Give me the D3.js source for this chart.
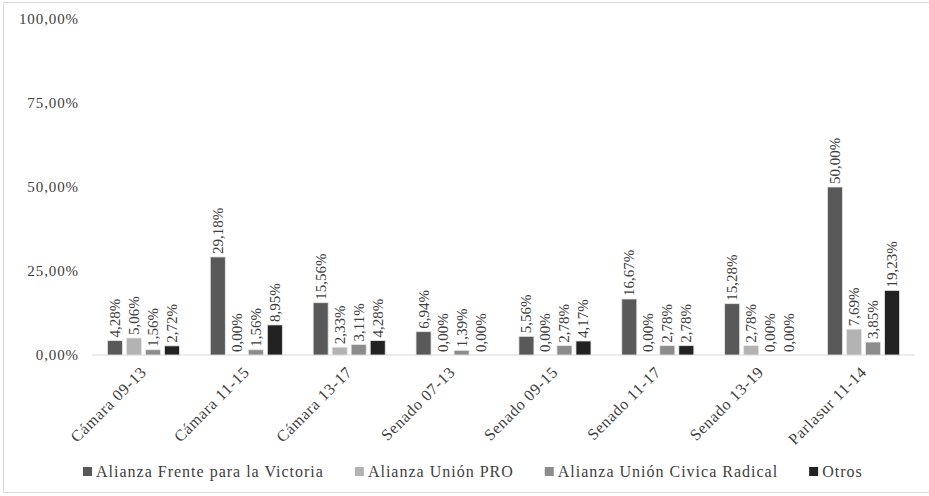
<!doctype html>
<html>
<head>
<meta charset="utf-8">
<script src="https://d3js.org/d3.v7.min.js"></script>
<style>
  body { margin: 0; background: #fff; }
  text { font-family: "Liberation Serif", "Times New Roman", serif; fill: #404040; }
</style>
</head>
<body>
<svg width="929" height="496"></svg>
<script>

var categories = ["Cámara 09-13", "Cámara 11-15", "Cámara 13-17", "Senado 07-13",
                  "Senado 09-15", "Senado 11-17", "Senado 13-19", "Parlasur 11-14"];
var seriesNames = ["Alianza Frente para la Victoria", "Alianza Unión PRO",
                   "Alianza Unión Civica Radical", "Otros"];
var fpv   = [4.28, 29.18, 15.56, 6.94, 5.56, 16.67, 15.28, 50.00];
var pro   = [5.06, 0.00, 2.33, 0.00, 0.00, 0.00, 2.78, 7.69];
var ucr   = [1.56, 1.56, 3.11, 1.39, 2.78, 2.78, 0.00, 3.85];
var otros = [2.72, 8.95, 4.28, 0.00, 4.17, 2.78, 0.00, 19.23];
var yTicks = [0, 25, 50, 75, 100];
var colors = ["#595959", "#b3b3b3", "#8c8c8c", "#222222"];

var allSeries = [fpv, pro, ucr, otros];

var svg = d3.select("svg");

// chart frame
svg.append("rect")
   .attr("x", 3.5).attr("y", 2.5)
   .attr("width", 940).attr("height", 490)
   .attr("fill", "none")
   .attr("stroke", "#d9d9d9");

var x0 = d3.scaleBand().domain(categories).range([92, 915]);
var x1 = d3.scaleBand().domain(seriesNames).range([0, x0.bandwidth()])
           .paddingInner(0.21).paddingOuter(0.81);
var y = d3.scaleLinear().domain([0, 100]).range([355, 19]);

var fmt = function(v) { return v.toFixed(2).replace(".", ",") + "%"; };

// y axis labels (no line, no ticks)
svg.append("g").selectAll("text")
   .data(yTicks)
   .enter().append("text")
   .attr("x", 79)
   .attr("y", function(d) { return y(d); })
   .attr("dy", "0.35em")
   .attr("text-anchor", "end")
   .attr("font-size", "15px")
   .attr("letter-spacing", "0.9px")
   .text(fmt);

// baseline
svg.append("line")
   .attr("x1", 92).attr("x2", 915)
   .attr("y1", y(0)).attr("y2", y(0))
   .attr("stroke", "#d9d9d9");

var rows = [];
categories.forEach(function(c, i) {
    seriesNames.forEach(function(s, j) {
        rows.push({ cat: c, ser: s, j: j, v: allSeries[j][i] });
    });
});

var g = svg.append("g");

g.selectAll("rect.bar")
 .data(rows.filter(function(d) { return d.v > 0; }))
 .enter().append("rect")
 .attr("class", "bar")
 .attr("x", function(d) { return x0(d.cat) + x1(d.ser); })
 .attr("y", function(d) { return y(d.v); })
 .attr("width", x1.bandwidth())
 .attr("height", function(d) { return y(0) - y(d.v); })
 .attr("fill", function(d) { return colors[d.j]; })
 .attr("stroke", "#e6e6e6")
 .attr("stroke-width", 0.8);

g.selectAll("text.val")
 .data(rows)
 .enter().append("text")
 .attr("class", "val")
 .attr("font-size", "15px")
 .attr("transform", function(d) {
     var cx = x0(d.cat) + x1(d.ser) + x1.bandwidth() / 2 + 5;
     return "translate(" + cx + "," + (y(d.v) - 3) + ") rotate(-90)";
 })
 .text(function(d) { return fmt(d.v); });

// category labels
svg.append("g").selectAll("text")
   .data(categories)
   .enter().append("text")
   .attr("font-size", "16px")
   .attr("letter-spacing", "0.7px")
   .attr("text-anchor", "end")
   .attr("transform", function(d) {
       var cx = x0(d) + x0.bandwidth() / 2 + 4;
       return "translate(" + cx + ",373) rotate(-45)";
   })
   .text(function(d) { return d; });

// legend
var legend = svg.append("g");
var lx = 83;
seriesNames.forEach(function(s, j) {
    legend.append("rect")
          .attr("x", lx).attr("y", 467)
          .attr("width", 9).attr("height", 9)
          .attr("fill", colors[j]);
    var t = legend.append("text")
          .attr("x", lx + 13).attr("y", 477)
          .attr("font-size", "16px")
          .attr("letter-spacing", "1px")
          .attr("fill", "#333")
          .text(s);
    lx += 13 + t.node().getComputedTextLength() + 31;
});

</script>
</body>
</html>
